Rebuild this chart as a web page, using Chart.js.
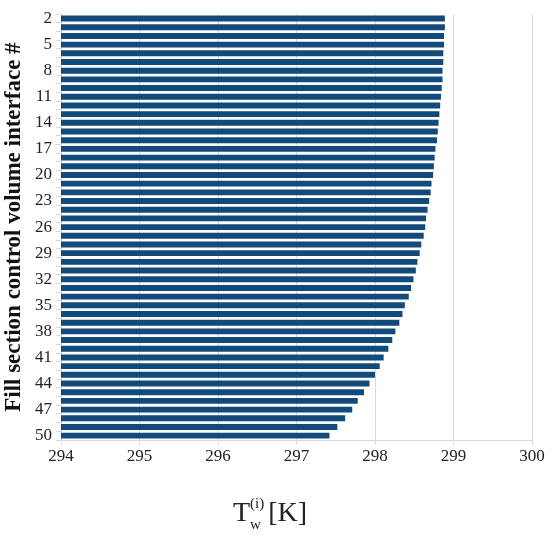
<!DOCTYPE html>
<html>
<head>
<meta charset="utf-8">
<script src="https://cdn.jsdelivr.net/npm/chart.js@4/dist/chart.umd.min.js"></script>
<style>
  body { margin: 0; background: #fff; }
  #wrap { position: relative; width: 550px; height: 545px; }
  #xtitle {
    position: absolute; left: 0; width: 540px; top: 496px; text-align: center;
    font-family: "Liberation Serif", "Times New Roman", serif; font-size: 28px; color: #222;
  }
  .stack { display: inline-block; vertical-align: middle; line-height: 1; font-size: 15px; text-align: left; margin-right: 4px; position: relative; top: -1px; }
  .stack span { display: block; }
</style>
</head>
<body>
<div id="wrap">
  <canvas id="chart" width="550" height="545"></canvas>
  <div id="xtitle">T<span class="stack"><span>(i)</span><span style="margin-top:6px">w</span></span>[K]</div>
</div>
<script>
// control volume interface numbers
var interfaces = [];
for (var n = 2; n <= 50; n++) interfaces.push(String(n));

// water temperature at each interface [K]
var temps = [
  298.89, 298.89, 298.88, 298.88, 298.87, 298.87, 298.86, 298.86, 298.85, 298.84,
  298.83, 298.82, 298.81, 298.80, 298.79, 298.77, 298.76, 298.75, 298.74, 298.72,
  298.71, 298.69, 298.67, 298.65, 298.64, 298.62, 298.59, 298.57, 298.54, 298.52,
  298.49, 298.46, 298.43, 298.38, 298.35, 298.31, 298.26, 298.22, 298.17, 298.11,
  298.06, 298.00, 297.93, 297.86, 297.78, 297.71, 297.62, 297.52, 297.42
];

var xMin = 294, xMax = 300;

new Chart(document.getElementById('chart'), {
  type: 'bar',
  data: {
    labels: interfaces,
    datasets: [{
      data: temps,
      backgroundColor: '#134a7c',
      barPercentage: 0.68,
      categoryPercentage: 1.0
    }]
  },
  options: {
    indexAxis: 'y',
    responsive: false,
    animation: false,
    layout: { padding: { left: 0, right: 18, top: 9, bottom: 0 } },
    plugins: { legend: { display: false }, tooltip: { enabled: false } },
    scales: {
      x: {
        min: xMin,
        max: xMax,
        ticks: {
          stepSize: 1,
          color: '#222',
          font: { family: 'Liberation Serif', size: 17 },
          padding: 1
        },
        grid: { color: '#d9d9d9', tickLength: 5 },
        border: { color: '#d9d9d9' },
        afterFit: function(scale) { scale.height = 105; }
      },
      y: {
        ticks: {
          autoSkip: false,
          color: '#222',
          font: { family: 'Liberation Serif', size: 17 },
          padding: 4,
          callback: function(val, i) { return i % 3 === 0 ? this.getLabelForValue(val) : ''; }
        },
        grid: { drawOnChartArea: false, color: '#d9d9d9', tickLength: 5, offset: true },
        border: { color: '#d9d9d9' },
        title: {
          display: true,
          text: 'Fill section control volume interface #',
          color: '#111',
          font: { family: 'Liberation Serif', size: 23, weight: 'bold' },
          padding: 0
        },
        afterFit: function(scale) { scale.width = 61; }
      }
    }
  }
});
</script>
</body>
</html>
